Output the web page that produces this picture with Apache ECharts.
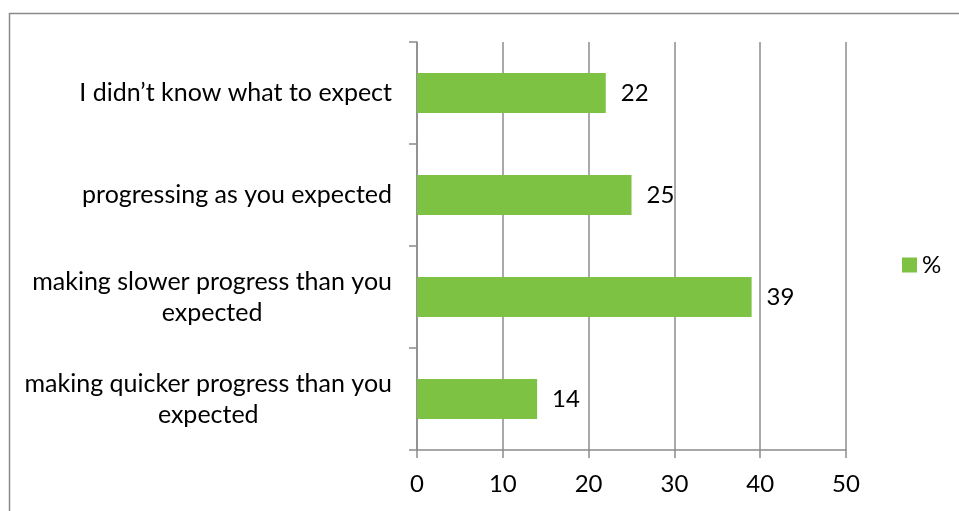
<!DOCTYPE html>
<html><head><meta charset="utf-8">
<script src="https://cdn.jsdelivr.net/npm/echarts@6/dist/echarts.min.js"></script>
<style>html,body{margin:0;padding:0;background:#fff}#c{width:959px;height:511px}</style>
</head><body><div id="c"></div>
<script>
const categories = [
  "I didn\u2019t know what to expect",
  "progressing as you expected",
  "making slower progress than you\nexpected",
  "making quicker progress than you\nexpected"
];
const values = [22, 25, 39, 14];
const seriesName = "%";
const xTicks = {min: 0, max: 50, interval: 10};

const FONT = "Lato";
const FS = 24;
const FS_CAT = 25;
const chart = echarts.init(document.getElementById('c'), null, {renderer: 'canvas'});
chart.setOption({
  animation: false,
  backgroundColor: '#fff',
  textStyle: {fontFamily: FONT, color: '#000'},
  graphic: [{
    type: 'rect', shape: {x: 9.5, y: 13.5, width: 960, height: 510},
    style: {fill: 'none', stroke: '#8a8a8a', lineWidth: 1.5}, silent: true
  }],
  grid: {left: 417, right: 113, top: 42, bottom: 61, containLabel: false},
  legend: {
    data: [seriesName], left: 902, top: 253, padding: 0, itemWidth: 15, itemHeight: 15, itemGap: 7,
    icon: 'rect', textStyle: {fontFamily: FONT, fontSize: FS, color: '#000'}
  },
  xAxis: {
    type: 'value', min: xTicks.min, max: xTicks.max, interval: xTicks.interval,
    axisLine: {show: true, lineStyle: {color: '#8c8c8c', width: 1.5}},
    axisTick: {show: true, length: 8, lineStyle: {color: '#8c8c8c', width: 1.5}},
    splitLine: {show: true, lineStyle: {color: '#8c8c8c', width: 1.5}},
    axisLabel: {fontFamily: FONT, fontSize: FS, color: '#000', margin: 22}
  },
  yAxis: {
    type: 'category', data: categories, inverse: true,
    axisLine: {show: true, lineStyle: {color: '#8c8c8c', width: 1.5}},
    axisTick: {show: true, length: 8, lineStyle: {color: '#8c8c8c', width: 1.5}},
    axisLabel: {
      fontFamily: FONT, fontSize: FS_CAT, color: '#000', margin: 25, align: 'right',
      formatter: v => v.split('\n').map(s => '{c|' + s + '}').join('\n'),
      rich: {c: {align: 'center', fontFamily: FONT, fontSize: FS_CAT, color: '#000', lineHeight: 31}}
    },
    splitLine: {show: false}
  },
  series: [{
    name: seriesName, type: 'bar', data: values, barWidth: 40,
    itemStyle: {color: '#7DC243'},
    label: {show: true, position: 'right', distance: 15, fontFamily: FONT, fontSize: FS, color: '#000'}
  }]
});
</script></body></html>
